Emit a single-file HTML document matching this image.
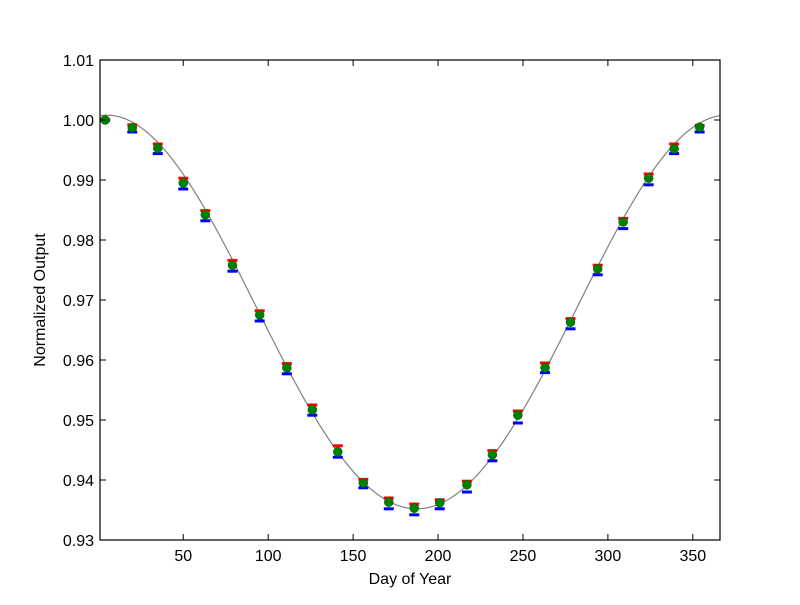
<!DOCTYPE html>
<html><head><meta charset="utf-8"><style>
body{margin:0;background:#fff;}
svg text{font-family:"Liberation Sans",sans-serif;fill:#000;}
</style></head><body>
<svg id="c" width="800" height="600" xmlns="http://www.w3.org/2000/svg">
<rect width="800" height="600" fill="#fff"/>
<g id="plot"></g>
<text x="410" y="584" font-size="16" text-anchor="middle">Day of Year</text>
<text transform="translate(45,300) rotate(-90)" font-size="16" text-anchor="middle">Normalized Output</text>
</svg>
<script>
const days=[4,20,35,50,63,79,95,111,126,141,156,171,186,201,217,232,247,263,278,294,309,324,339,354];
const values=[1.000,0.9987,0.9953,0.9895,0.9842,0.9758,0.9675,0.9587,0.9517,0.9447,0.9395,0.9363,0.9353,0.9362,0.9392,0.9442,0.9508,0.9587,0.9663,0.9752,0.9830,0.9903,0.9952,0.9988];
const upperErr=[0.0001,0.0005,0.0007,0.0008,0.0007,0.0008,0.0007,0.0007,0.0008,0.0010,0.0006,0.0007,0.0007,0.0005,0.0006,0.0007,0.0007,0.0008,0.0006,0.0006,0.0006,0.0007,0.0008,0.0003];
const lowerErr=[0.0001,0.0007,0.0009,0.0010,0.0010,0.0010,0.0010,0.0010,0.0009,0.0009,0.0008,0.0011,0.0011,0.0010,0.0012,0.0010,0.0013,0.0008,0.0011,0.0010,0.0011,0.0011,0.0008,0.0008];
const fitParams=[0.9675,0.0328,0.0005,5];
const xTicks=[50,100,150,200,250,300,350];
const yTicks=[0.93,0.94,0.95,0.96,0.97,0.98,0.99,1.00,1.01];
const L=100,R=720,T=60,B=540,xmin=1,xmax=366,ymin=0.93,ymax=1.01;
const X=v=>L+(v-xmin)/(xmax-xmin)*(R-L);
const Y=v=>B-(v-ymin)/(ymax-ymin)*(B-T);
const g=document.getElementById('plot');
const NS='http://www.w3.org/2000/svg';
function mk(t,a){const e=document.createElementNS(NS,t);for(const k in a)e.setAttribute(k,a[k]);g.appendChild(e);return e;}
let d='';
for(let i=0;i<=365;i++){const x=xmin+i*(xmax-xmin)/365;const th=2*Math.PI*(x-fitParams[3])/365;const y=fitParams[0]+fitParams[1]*Math.cos(th)+fitParams[2]*Math.cos(2*th);d+=(i?'L':'M')+X(x).toFixed(2)+','+Y(y).toFixed(2);}
const fit=mk('path',{d:d,fill:'none',stroke:'#808080','stroke-width':1.2});


days.forEach((dd,i)=>{
 const x=X(dd);
 const u=mk('line',{x1:x-5,x2:x+5,y1:Y(values[i]+upperErr[i]),y2:Y(values[i]+upperErr[i]),stroke:'#ff0000','stroke-width':3});
 
 
 const l=mk('line',{x1:x-5,x2:x+5,y1:Y(values[i]-lowerErr[i]),y2:Y(values[i]-lowerErr[i]),stroke:'#0000ff','stroke-width':3});
 
 
 const p=mk('circle',{cx:x,cy:Y(values[i]),r:4.5,fill:'#008000',stroke:'#006000','stroke-width':0.5});
 
 
});
const fr=mk('rect',{x:L,y:T,width:R-L,height:B-T,fill:'none',stroke:'#000','stroke-width':1.2});


xTicks.forEach(t=>{const x=X(t);
 mk('line',{x1:x,x2:x,y1:B,y2:B-6,stroke:'#000'});mk('line',{x1:x,x2:x,y1:T,y2:T+6,stroke:'#000'});
 const tx=mk('text',{x:x,y:B+21,'font-size':16,'text-anchor':'middle'});tx.textContent=t;
 
 
});
yTicks.forEach(t=>{const y=Y(t);
 mk('line',{x1:L,x2:L+6,y1:y,y2:y,stroke:'#000'});mk('line',{x1:R,x2:R-6,y1:y,y2:y,stroke:'#000'});
 const tx=mk('text',{x:L-6,y:y+6,'font-size':16,'text-anchor':'end'});tx.textContent=t.toFixed(2);
 
 
});
</script>
</body></html>
